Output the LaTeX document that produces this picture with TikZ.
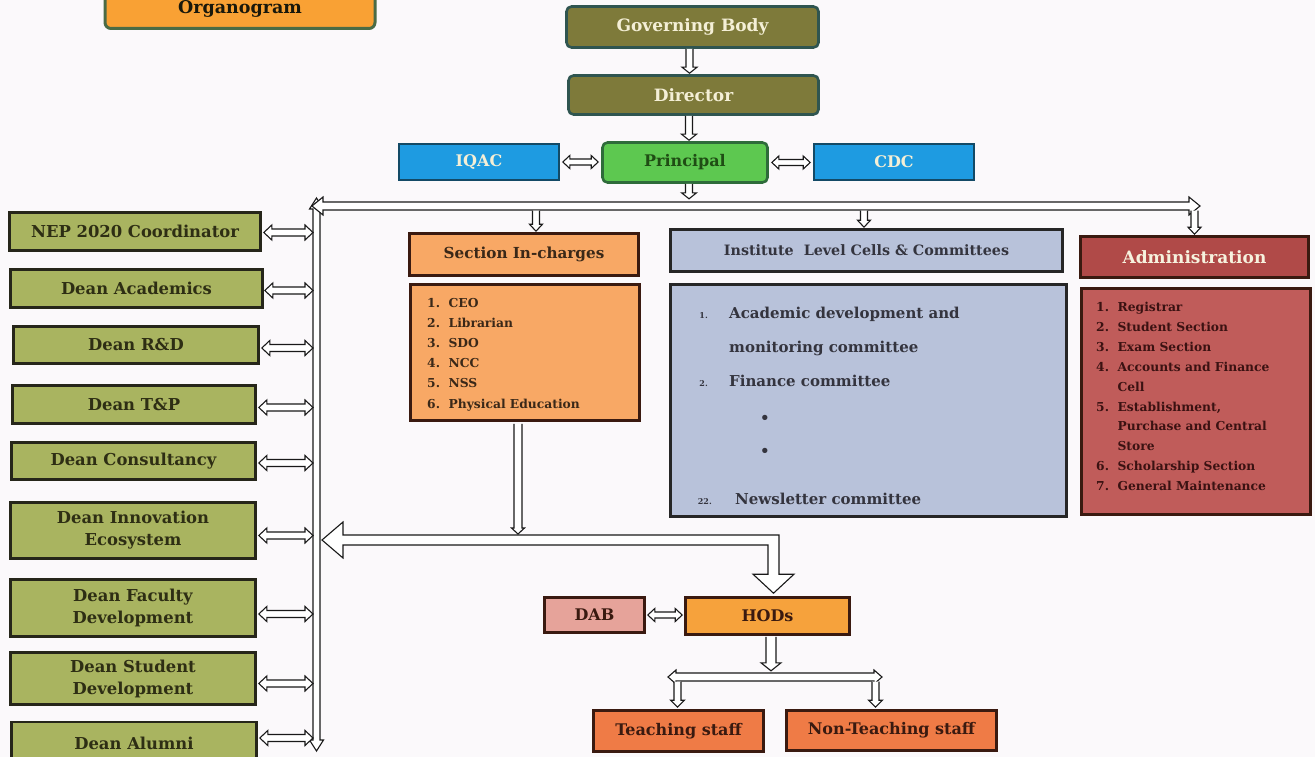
\documentclass[tikz,border=0pt]{standalone}
\usepackage{fontspec}
\setmainfont{DejaVu Serif}
\usetikzlibrary{calc}
\definecolor{bg}{HTML}{FBF9FB}
\definecolor{olivefill}{HTML}{7E7A3A}
\definecolor{tealborder}{HTML}{2F5550}
\definecolor{creamtext}{HTML}{F4EFD6}
\definecolor{prinfill}{HTML}{5DC850}
\definecolor{prinborder}{HTML}{2E6B3A}
\definecolor{printext}{HTML}{1F4D14}
\definecolor{bluefill}{HTML}{1E9BE1}
\definecolor{blueborder}{HTML}{134A66}
\definecolor{orgfill}{HTML}{F9A134}
\definecolor{orgborder}{HTML}{4B6B45}
\definecolor{deanfill}{HTML}{A9B460}
\definecolor{deanborder}{HTML}{26261A}
\definecolor{deantext}{HTML}{2E2E14}
\definecolor{secfill}{HTML}{F8A865}
\definecolor{sectext}{HTML}{3A2818}
\definecolor{instfill}{HTML}{B8C2DA}
\definecolor{insttext}{HTML}{34343E}
\definecolor{admhead}{HTML}{B04A48}
\definecolor{admlist}{HTML}{C05C5A}
\definecolor{admtext}{HTML}{3B1212}
\definecolor{hodfill}{HTML}{F6A23C}
\definecolor{dabfill}{HTML}{E6A39A}
\definecolor{staff}{HTML}{EF7B46}
\definecolor{darkbrown}{HTML}{3A1A10}
\tikzset{
  basebox/.style={draw, line width=2.6pt, inner sep=0pt, align=center,
    font=\bfseries\fontsize{16}{19}\selectfont},
  olivebox/.style={basebox, fill=olivefill, draw=tealborder, rounded corners=5pt, text=creamtext,
    font=\bfseries\fontsize{17}{20}\selectfont},
  bluebox/.style={basebox, fill=bluefill, draw=blueborder, text=creamtext, line width=1.6pt},
  deanbox/.style={basebox, fill=deanfill, draw=deanborder, text=deantext, font=\bfseries\fontsize{16.4}{22}\selectfont},
  secbox/.style={basebox, fill=secfill, draw=darkbrown, text=sectext},
  instbox/.style={basebox, fill=instfill, draw=black!85, text=insttext},
  admbox/.style={basebox, draw=darkbrown},
  staffbox/.style={basebox, fill=staff, draw=darkbrown, text=darkbrown},
  listtxt/.style={inner sep=0pt, anchor=west, align=left},
  instline/.style={inner sep=0pt, anchor=base west, text=insttext, font=\bfseries\fontsize{15}{18}\selectfont},
  instnum/.style={inner sep=0pt, anchor=base east, text=insttext, font=\bfseries\fontsize{8}{10}\selectfont},
  harr/.style={draw=black!90, line width=1.1pt, fill=white, line join=miter},
}
% down arrow: #1 shaft half, #2 head half, #3 head length, #4 start point, #5 tip point
\newcommand\varr[5]{\draw[harr] let \p1=#4, \p2=#5 in
  (\x2-#1pt,\y1) -- (\x2-#1pt,\y2+#3pt) -- (\x2-#2pt,\y2+#3pt) -- (\x2,\y2)
  -- (\x2+#2pt,\y2+#3pt) -- (\x2+#1pt,\y2+#3pt) -- (\x2+#1pt,\y1);}
% horizontal double arrow: left tip #4, right tip #5 (y from #4)
\newcommand\hdarr[5]{\draw[harr] let \p1=#4, \p2=#5 in
  (\x1,\y1) -- (\x1+#3pt,\y1+#2pt) -- (\x1+#3pt,\y1+#1pt) -- (\x2-#3pt,\y1+#1pt)
  -- (\x2-#3pt,\y1+#2pt) -- (\x2,\y1) -- (\x2-#3pt,\y1-#2pt) -- (\x2-#3pt,\y1-#1pt)
  -- (\x1+#3pt,\y1-#1pt) -- (\x1+#3pt,\y1-#2pt) -- cycle;}
% vertical double arrow: top tip #4, bottom tip #5 (x from #4)
\newcommand\vdarr[5]{\draw[harr] let \p1=#4, \p2=#5 in
  (\x1,\y1) -- (\x1+#2pt,\y1-#3pt) -- (\x1+#1pt,\y1-#3pt) -- (\x1+#1pt,\y2+#3pt)
  -- (\x1+#2pt,\y2+#3pt) -- (\x1,\y2) -- (\x1-#2pt,\y2+#3pt) -- (\x1-#1pt,\y2+#3pt)
  -- (\x1-#1pt,\y1-#3pt) -- (\x1-#2pt,\y1-#3pt) -- cycle;}
\begin{document}
\begin{tikzpicture}[x=1pt,y=-1pt]
\useasboundingbox (0,0) rectangle (1315,757);
\fill[bg] (0,0) rectangle (1315,757);

% title
\node[basebox, fill=orgfill, draw=orgborder, rounded corners=6pt, line width=3pt,
  text=black!80!olivefill, minimum width=270, minimum height=57,
  font=\bfseries\fontsize{17.5}{20}\selectfont, text depth=0pt] (org) at (240,0) {\raisebox{-14pt}{Organogram}};

% top chain
\node[olivebox, minimum width=252, minimum height=41] (gb) at (692.5,27) {Governing Body};
\node[olivebox, minimum width=250, minimum height=39] (dir) at (693.5,95) {Director};
\node[basebox, fill=prinfill, draw=prinborder, text=printext, rounded corners=5pt,
  minimum width=165, minimum height=40] (prin) at (685,162.5) {Principal};
\node[bluebox, minimum width=160, minimum height=36] (iqac) at (479,162) {IQAC};
\node[bluebox, minimum width=160, minimum height=36] (cdc) at (894,162) {CDC};

% deans
\node[deanbox, minimum width=251, minimum height=38] (nep) at (135,231.5) {NEP 2020 Coordinator};
\node[deanbox, minimum width=252, minimum height=38] (acad) at (136.5,288.5) {Dean Academics};
\node[deanbox, minimum width=245, minimum height=37] (rd) at (136,345) {Dean R\&D};
\node[deanbox, minimum width=243, minimum height=38] (tp) at (134,404.5) {Dean T\&P};
\node[deanbox, minimum width=244, minimum height=37] (cons) at (133.5,461) {Dean Consultancy};
\node[deanbox, minimum width=245, minimum height=56] (innov) at (133,530.5) {Dean Innovation\\Ecosystem};
\node[deanbox, minimum width=245, minimum height=57] (fac) at (133,608) {Dean Faculty\\Development};
\node[deanbox, minimum width=245, minimum height=52] (stud) at (133,678.5) {Dean Student\\Development};
\node[deanbox, minimum width=245, minimum height=42] (alum) at (134,743) {Dean Alumni};

% section in-charges
\node[secbox, minimum width=229, minimum height=42, font=\bfseries\fontsize{15.2}{17}\selectfont] (sech) at (524,254.5) {Section In-charges};
\node[secbox, minimum width=229, minimum height=136] (secl) at (525,352.5) {};
\node[listtxt, text=sectext, font=\bfseries\fontsize{12.3}{20.2}\selectfont] (secitems) at (427,354.5)
  {1.\ \ CEO\\2.\ \ Librarian\\3.\ \ SDO\\4.\ \ NCC\\5.\ \ NSS\\6.\ \ Physical Education};

% institute level
\node[instbox, minimum width=392, minimum height=42, font=\bfseries\fontsize{14.3}{16}\selectfont] (insth) at (866.5,250.5) {Institute\ \ Level Cells \& Committees};
\node[instbox, minimum width=396, minimum height=232] (instl) at (868.5,400.5) {};
\node[instnum] (n1) at (708,318) {1.};
\node[instline] (i1) at (729,318) {Academic development and};
\node[instline] (i1b) at (729,352) {monitoring committee};
\node[instnum] (n2) at (708,386) {2.};
\node[instline] (i2) at (729,386) {Finance committee};
\node[instline, anchor=center] (b1) at (765,419) {•};
\node[instline, anchor=center] (b2) at (765,452) {•};
\node[instnum] (n22) at (712,504) {22.};
\node[instline] (i22) at (735,504) {Newsletter committee};

% administration
\node[admbox, fill=admhead, text=creamtext!80!white, minimum width=228, minimum height=41,
  font=\bfseries\fontsize{17}{20}\selectfont] (admh) at (1194.5,257) {Administration};
\node[admbox, fill=admlist, minimum width=229, minimum height=226] (adml) at (1196,401.5) {};
\node[listtxt, text=admtext, font=\bfseries\fontsize{12.3}{19.9}\selectfont] (admitems) at (1096,396.5)
  {1.\ \ Registrar\\2.\ \ Student Section\\3.\ \ Exam Section\\4.\ \ Accounts and Finance\\\hphantom{4.\ \ }Cell\\5.\ \ Establishment,\\\hphantom{5.\ \ }Purchase and Central\\\hphantom{5.\ \ }Store\\6.\ \ Scholarship Section\\7.\ \ General Maintenance};

% HODs level
\node[basebox, fill=hodfill, draw=darkbrown, text=darkbrown, minimum width=164, minimum height=37] (hods) at (767.5,616) {HODs};
\node[basebox, fill=dabfill, draw=darkbrown, text=darkbrown, minimum width=100, minimum height=35] (dab) at (594.5,615) {DAB};
\node[staffbox, minimum width=170, minimum height=41] (teach) at (678.5,731) {Teaching staff};
\node[staffbox, minimum width=210, minimum height=40] (nonteach) at (891.5,730.5) {Non-Teaching staff};

% bus coordinates
\coordinate (vtop) at (316.5,198);
\coordinate (vbot) at (316.5,751);
\coordinate (vbusL) at (313,0);
\coordinate (busL) at (312,206);
\coordinate (busR) at (1200,206);
\coordinate (busB) at (0,210.5);
\coordinate (bigtip) at (322,540);
\coordinate (hodtip) at ($(hods.north)+(6,-3)$);
\coordinate (secdown) at (518,534);
\coordinate (hbusL) at (668,677);
\coordinate (hbusR) at (882,677);

% connectors top chain
\varr{3.5}{7.5}{6}{(gb.south)}{($(dir.north)+(-4,-1)$)}
\varr{3.5}{7.5}{6}{(dir.south)}{($(prin.north)+(4,-1)$)}
\varr{3.5}{7.5}{6}{(prin.south)}{($(prin.south)+(4,15)$)}
\hdarr{3}{6.5}{7}{($(iqac.east)+(3,0)$)}{($(prin.west)+(-3,0)$)}
\hdarr{3}{6.5}{7}{($(prin.east)+(3,0)$)}{($(cdc.west)+(-3,0)$)}

% buses
\vdarr{3.5}{7}{11}{(vtop)}{(vbot)}
\hdarr{4}{9}{11}{(busL)}{(busR)}
\varr{3.5}{6.5}{7}{(busB -| sech.north)}{($(sech.north)+(12,-1)$)}
\varr{3.5}{6.5}{7}{(busB -| insth.north)}{($(insth.north)+(-2.5,-1)$)}
\varr{3.5}{6.5}{7}{(busB -| admh.north)}{($(admh.north)+(0,-1)$)}

% dean connectors
\hdarr{3.5}{7.5}{8}{($(nep.east)+(2,1)$)}{(vbusL)}
\hdarr{3.5}{7.5}{8}{($(acad.east)+(1,2)$)}{(vbusL)}
\hdarr{3.5}{7.5}{8}{($(rd.east)+(2,3)$)}{(vbusL)}
\hdarr{3.5}{7.5}{8}{($(tp.east)+(2,3)$)}{(vbusL)}
\hdarr{3.5}{7.5}{8}{($(cons.east)+(2,2)$)}{(vbusL)}
\hdarr{3.5}{7.5}{8}{($(innov.east)+(2,5)$)}{(vbusL)}
\hdarr{3.5}{7.5}{8}{($(fac.east)+(2,6)$)}{(vbusL)}
\hdarr{3.5}{7.5}{8}{($(stud.east)+(2,5)$)}{(vbusL)}
\hdarr{3.5}{7.5}{8}{($(alum.east)+(2,-5)$)}{(vbusL)}

% big arrow to HODs
\draw[harr] let \p1=(bigtip), \p2=(hodtip) in
  (\x1,\y1) -- (\x1+21pt,\y1+18pt) -- (\x1+21pt,\y1+5pt) -- (\x2+5.5pt,\y1+5pt)
  -- (\x2+5.5pt,\y2+19pt) -- (\x2+20.5pt,\y2+19pt) -- (\x2,\y2) -- (\x2-20.5pt,\y2+19pt)
  -- (\x2-5.5pt,\y2+19pt) -- (\x2-5.5pt,\y1-5pt) -- (\x1+21pt,\y1-5pt) -- (\x1+21pt,\y1-18pt) -- cycle;
\varr{4}{6.5}{6}{($(secl.south)+(-7,2)$)}{(secdown)}

% HOD connectors
\hdarr{3}{6.5}{7}{($(dab.east)+(2,0)$)}{($(hods.west)+(-2,0)$)}
\varr{5}{10}{8}{($(hods.south)+(3,1)$)}{($(hods.south)+(3.5,35)$)}
\hdarr{4}{7}{8}{(hbusL)}{(hbusR)}
\varr{3.5}{7}{7}{($(hbusL)+(9,4.5)$)}{($(teach.north)+(-1,-2)$)}
\varr{3.5}{7}{7}{($(hbusL)+(9,4.5)$)}{($(nonteach.north)+(-16,-2)$)}
\end{tikzpicture}
\end{document}
